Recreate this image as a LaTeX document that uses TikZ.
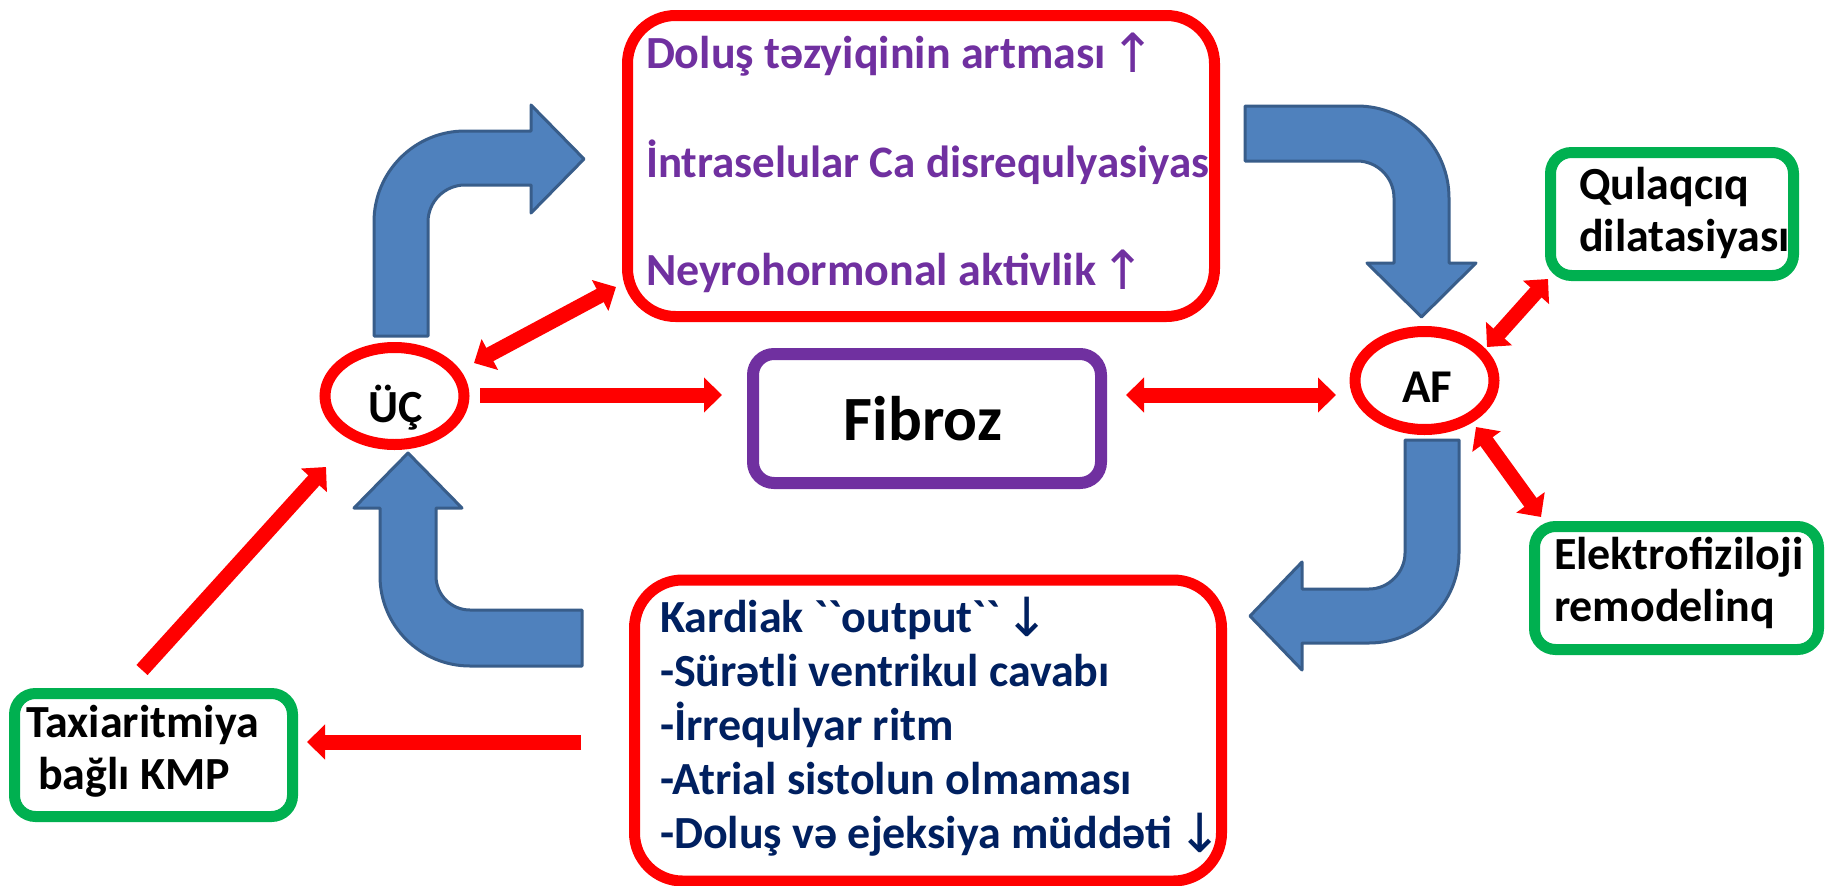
\documentclass[tikz,border=0pt]{standalone}
\usepackage{fontspec}
\setmainfont{Carlito}
\newfontfamily\symfont{DejaVu Sans}
\usetikzlibrary{arrows.meta,calc,shapes.geometric}
\definecolor{ppurple}{HTML}{7030A0}
\definecolor{pnavy}{HTML}{002060}
\definecolor{pgreen}{HTML}{00B050}
\definecolor{pblue}{HTML}{4F81BD}
\definecolor{pblueb}{HTML}{385D8A}
\definecolor{pred}{HTML}{FF0000}
\newcommand\myarr[1]{\kern-6pt{\fontsize{54}{60}\selectfont\symfont\mdseries\raisebox{-4pt}{#1}}}
\begin{document}
\begin{tikzpicture}[x=1pt,y=-1pt,
  redbox/.style={draw=pred,line width=11pt,rounded corners=48pt,minimum width=587pt,minimum height=301pt,inner sep=0pt,outer sep=0pt},
  greenbox/.style={draw=pgreen,line width=11pt,rounded corners=21pt,minimum height=123pt,inner sep=0pt,outer sep=0pt},
  fibbox/.style={draw=ppurple,line width=12pt,rounded corners=21pt,minimum width=348pt,minimum height=129pt,inner sep=0pt,outer sep=0pt},
  ell/.style={ellipse,draw=pred,line width=11pt,inner sep=0pt,outer sep=0pt},
  basetxt/.style={anchor=base west,inner sep=0pt,outer sep=0pt,font=\fontsize{46}{55}\selectfont\bfseries},
  ptxt/.style={basetxt,text=ppurple},
  ntxt/.style={basetxt,text=pnavy},
  ktxt/.style={basetxt,text=black},
  redarr/.style={draw=pred,line width=15pt,-{Triangle[length=18pt,width=34pt]}},
  redarrr/.style={draw=pred,line width=15pt,{Triangle[length=18pt,width=34pt]}-{Triangle[length=18pt,width=34pt]}},
  bluearr/.style={fill=pblue,draw=pblueb,line width=3pt,line join=round}
]
\useasboundingbox (0,0) rectangle (1826,886);
\fill[white] (0,0) rectangle (1826,886);

% boxes
\node[redbox] (top) at (921,166) {};
\node[redbox] (bot) at (928,730.5) {};
\node[fibbox] (fib) at (927,418.5) {};
\node[ell,minimum width=139pt,minimum height=97pt] (uc) at (394.5,396) {};
\node[ell,minimum width=139pt,minimum height=98pt] (af) at (1424.5,380.5) {};
\node[greenbox,minimum width=243pt] (qul) at (1672,214) {};
\node[greenbox,minimum width=284pt] (elek) at (1676.5,588) {};
\node[greenbox,minimum width=278pt] (taxi) at (153.5,755) {};

% texts
\node[ptxt] (t1) at (646,68) {Doluş təzyiqinin artması \myarr{↑}};
\node[ptxt,font=\fontsize{45}{55}\selectfont\bfseries] (t2) at (646,177) {İntraselular Ca disrequlyasiyas};
\node[ptxt] (t3) at (646,285) {Neyrohormonal aktivlik \myarr{↑}};

\node[ntxt] (b1) at (660,632) {Kardiak \textasciigrave\textasciigrave output\textasciigrave\textasciigrave\ \myarr{↓}};
\node[ntxt] (b2) at (660,686) {-Sürətli ventrikul cavabı};
\node[ntxt] (b3) at (660,740) {-İrrequlyar ritm};
\node[ntxt] (b4) at (660,794) {-Atrial sistolun olmaması};
\node[ntxt] (b5) at (660,848) {-Doluş və ejeksiya müddəti \myarr{↓}};

\node[anchor=base,inner sep=0pt,font=\fontsize{63}{70}\selectfont\bfseries] (fibt) at (923,440) {Fibroz};
\node[anchor=base,inner sep=0pt,font=\fontsize{46}{55}\selectfont\bfseries] (uct) at (395.5,422) {ÜÇ};
\node[anchor=base,inner sep=0pt,font=\fontsize{47}{55}\selectfont\bfseries] (aft) at (1427.5,402) {AF};

\node[ktxt] (q1) at (1579,199) {Qulaqcıq};
\node[ktxt] (q2) at (1579,251) {dilatasiyası};
\node[ktxt] (e1) at (1554,569) {Elektrofiziloji};
\node[ktxt] (e2) at (1554,621) {remodelinq};
\node[ktxt] (x1) at (26,737) {Taxiaritmiya};
\node[ktxt] (x2) at (38,789) {bağlı KMP};

% red connectors
\draw[redarr] ($(uc)+(85.5,-1)$) -- ($(fib)+(-205,-23.5)$);
\draw[redarrr] ($(fib)+(199,-23.5)$) -- ($(af)+(-88.5,14.5)$);
\draw[redarrr] ($(uc)+(79.5,-33)$) -- ($(top)+(-305,121)$);
\draw[redarr] ($(taxi)+(-11.5,-85)$) -- ($(uc)+(-68.5,71)$);
\draw[redarr] ($(bot)+(-347,11.5)$) -- ($(taxi)+(153.5,-13)$);
\draw[redarrr] ($(af)+(62.5,-33.5)$) -- ($(qul)+(-124,65)$);
\draw[redarrr] ($(af)+(51.5,46.5)$) -- ($(elek)+(-135.5,-71)$);

% blue block arrows
\draw[bluearr] (374,336) -- (374,222) .. controls (374,171.7) and (414.7,131) .. (465,131)
  -- (531,131) -- (531,105) -- (584,159) -- (531,213) -- (531,185) -- (465,185)
  .. controls (444.6,185) and (428,201.6) .. (428,222) -- (428,336) -- cycle;
\draw[bluearr] (1245,106) -- (1357,106) .. controls (1407.8,106) and (1449,147.2) .. (1449,198)
  -- (1449,263) -- (1476,263) -- (1421.5,317) -- (1367,263) -- (1394,263) -- (1394,198)
  .. controls (1394,177.6) and (1377.4,161) .. (1357,161) -- (1245,161) -- cycle;
\draw[bluearr] (1405,440) -- (1459,440) -- (1459,553) .. controls (1459,602.7) and (1418.7,643) .. (1369,643)
  -- (1302,643) -- (1302,670) -- (1250,616) -- (1302,562) -- (1302,589) -- (1369,589)
  .. controls (1388.9,589) and (1405,572.1) .. (1405,553) -- cycle;
\draw[bluearr] (582,610) -- (470,610) .. controls (451.2,610) and (436,594.8) .. (436,576)
  -- (436,508) -- (462,508) -- (408,453) -- (354,508) -- (380,508) -- (380,576)
  .. controls (380,625.7) and (420.3,666) .. (470,666) -- (582,666) -- cycle;
\end{tikzpicture}
\end{document}
